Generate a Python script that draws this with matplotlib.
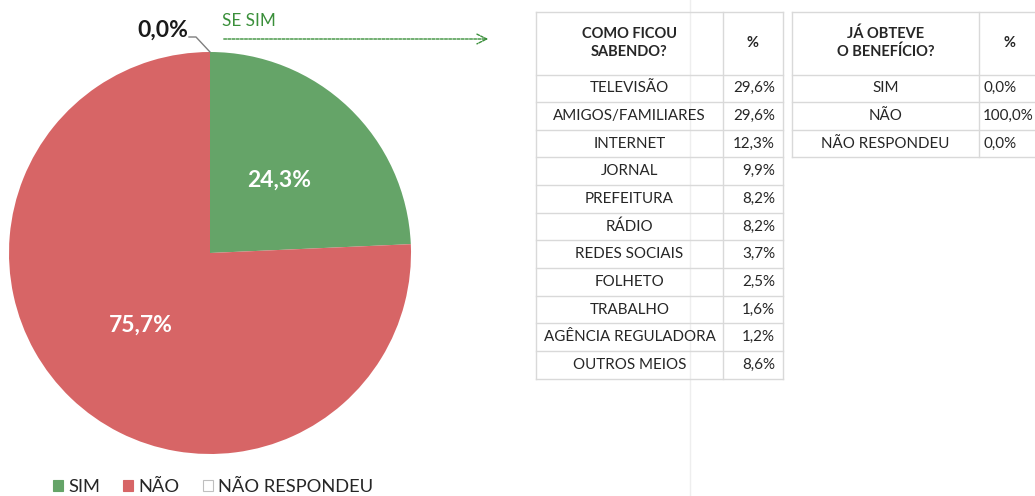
import matplotlib
matplotlib.use("Agg")
import matplotlib.pyplot as plt
from matplotlib.patches import Patch

plt.rcParams['font.family'] = ['Lato', 'DejaVu Sans']

# ---------------- data ----------------
pie_labels = ["SIM", "NÃO", "NÃO RESPONDEU"]
pie_values = [24.3, 75.7, 0.0]
pie_colors = ["#65A468", "#D76566", "#FFFFFF"]

como_header = ["COMO FICOU\nSABENDO?", "%"]
como_items = ["TELEVISÃO", "AMIGOS/FAMILIARES", "INTERNET", "JORNAL", "PREFEITURA",
              "RÁDIO", "REDES SOCIAIS", "FOLHETO", "TRABALHO", "AGÊNCIA REGULADORA",
              "OUTROS MEIOS"]
como_values = [29.6, 29.6, 12.3, 9.9, 8.2, 8.2, 3.7, 2.5, 1.6, 1.2, 8.6]

obteve_header = ["JÁ OBTEVE\nO BENEFÍCIO?", "%"]
obteve_items = ["SIM", "NÃO", "NÃO RESPONDEU"]
obteve_values = [0.0, 100.0, 0.0]

annot_text = "SE SIM"


def pct(v):
    return f"{v:.1f}".replace(".", ",") + "%"


W, H = 1035, 496
fig = plt.figure(figsize=(W / 100, H / 100), dpi=100)
ax = fig.add_axes([0, 0, 1, 1])


def Y(y):
    return H - y


# faint separator line
ax.plot([690, 690], [Y(0), Y(496)], color="#EEEEEE", lw=1, zorder=0)

# ---------------- pie ----------------
cx, cy, R = 210, 253, 201
wedges, texts, autotexts = ax.pie(
    pie_values, colors=pie_colors, startangle=90, counterclock=False,
    center=(cx, Y(cy)), radius=R, frame=True,
    autopct=lambda p: pct(p) if p > 0.05 else "", pctdistance=0.5,
    wedgeprops=dict(linewidth=0),
    textprops=dict(color="white", fontsize=16.5, fontweight="bold"))
ax.set_xlim(0, W)
ax.set_ylim(0, H)
ax.set_aspect("equal")
ax.axis("off")

# 0,0% label with leader line
ax.plot([189, 196, cx], [Y(37), Y(37), Y(cy - R)], color="#7F7F7F", lw=1)
ax.text(188, Y(30), pct(pie_values[2]), ha="right", va="center",
        fontsize=16.5, fontweight="bold", color="#1A1A1A")

# "SE SIM" arrow
green = "#3A8F3A"
ax.text(222, Y(21), annot_text, ha="left", va="center", fontsize=12.3, color=green)
ax.annotate("", xy=(491, Y(39)), xytext=(221, Y(39)),
            arrowprops=dict(arrowstyle="->,head_length=0.7,head_width=0.35",
                            color=green, lw=1, linestyle=(0, (2, 1))))

# ---------------- tables ----------------
grid_c = "#D9D9D9"
txt_c = "#262626"
fs = 10.9


def draw_table(x0, xs, x1, header, items, values, val_ha, val_x, hdr_pct_x):
    top, hdr_bot = 12, 74.5
    row_h = 27.65
    n = len(items)
    bottom = hdr_bot + n * row_h
    ys = [top, hdr_bot] + [hdr_bot + (i + 1) * row_h for i in range(n)]
    for yy in ys:
        ax.plot([x0, x1], [Y(yy), Y(yy)], color=grid_c, lw=1)
    for xx in (x0, xs, x1):
        ax.plot([xx, xx], [Y(top), Y(bottom)], color=grid_c, lw=1)
    hmid = (top + hdr_bot) / 2
    lines = header[0].split("\n")
    for k, line in enumerate(lines):
        off = (k - (len(lines) - 1) / 2) * 18
        ax.text((x0 + xs) / 2, Y(hmid + off), line, ha="center", va="center",
                fontsize=fs - 0.4, fontweight="bold", color=txt_c)
    ax.text(hdr_pct_x, Y(hmid), header[1], ha="center", va="center",
            fontsize=fs - 0.4, fontweight="bold", color=txt_c)
    for i, (lab, v) in enumerate(zip(items, values)):
        yc = hdr_bot + (i + 0.5) * row_h
        ax.text((x0 + xs) / 2, Y(yc), lab, ha="center", va="center",
                fontsize=fs, color=txt_c)
        ax.text(val_x, Y(yc), pct(v), ha=val_ha, va="center",
                fontsize=fs, color=txt_c, clip_on=True)


draw_table(536, 723, 783, como_header, como_items, como_values, "right", 775, 752.5)
draw_table(792, 979, 1040, obteve_header, obteve_items, obteve_values, "left", 983, 1009)

# ---------------- legend ----------------
handles = [Patch(facecolor=c, edgecolor=("#BFBFBF" if c == "#FFFFFF" else c), lw=0.8)
           for c in pie_colors]
fig.legend(handles, pie_labels, loc="lower left", bbox_to_anchor=(41 / W, -11 / H),
           ncol=3, frameon=False, fontsize=13.2, handlelength=0.53, handleheight=0.53,
           handletextpad=0.32, columnspacing=1.25, borderpad=0.15,
           labelcolor="#262626")

fig.savefig("out.png", dpi=100)
